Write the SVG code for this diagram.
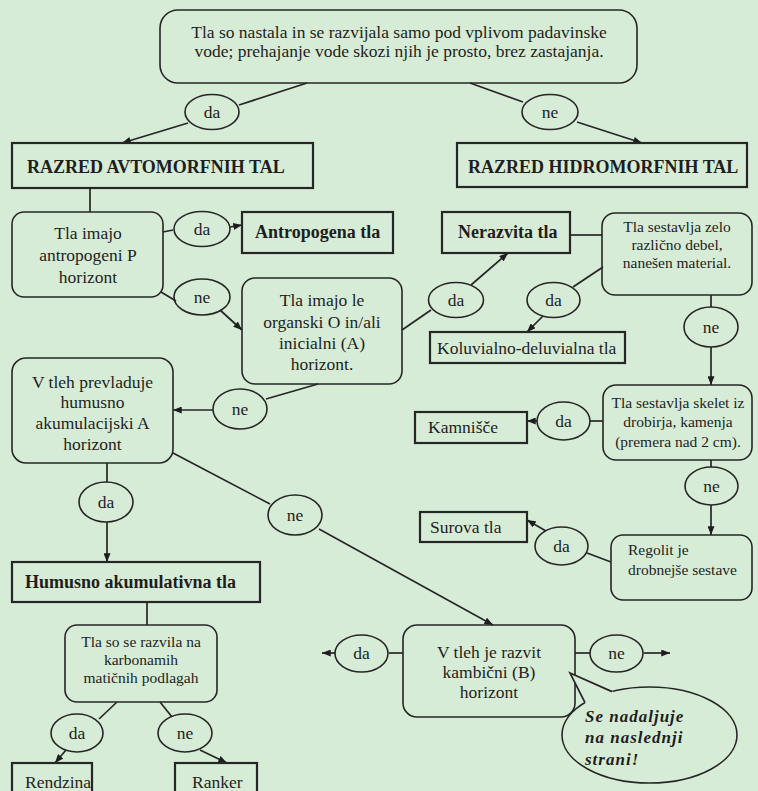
<svg xmlns="http://www.w3.org/2000/svg" width="758" height="791" viewBox="0 0 758 791">
<defs>
<marker id="ah" viewBox="0 0 10 8" refX="10" refY="4" markerWidth="9" markerHeight="7" markerUnits="userSpaceOnUse" orient="auto">
<path d="M0,0 L10,4 L0,8 z" fill="#1e1e1e"/>
</marker>
<style>
text{font-family:"Liberation Serif","Times New Roman",serif;fill:#1e1e1e;font-size:17.5px}
.b{font-weight:bold;font-size:18px}
.s{font-size:15.5px}
.c{text-anchor:middle}
.rr{fill:none;stroke:#262626;stroke-width:1.6}
.rb{fill:none;stroke:#262626;stroke-width:2.2}
.el{fill:none;stroke:#262626;stroke-width:1.6}
.ln{stroke:#262626;stroke-width:1.7;fill:none}
.ar{stroke:#262626;stroke-width:1.7;fill:none;marker-end:url(#ah)}
.call{font-weight:bold;font-style:italic;font-size:17px;letter-spacing:1px}
</style>
</defs>
<rect width="758" height="791" fill="#d7ecd6"/>

<g id="connectors">
<line class="ln" x1="307" y1="83" x2="239" y2="105"/>
<line class="ar" x1="188" y1="123" x2="122" y2="143"/>
<line class="ln" x1="470" y1="83" x2="523" y2="102"/>
<line class="ar" x1="577" y1="122" x2="642" y2="143"/>
<line class="ln" x1="90" y1="188" x2="90" y2="212"/>
<line class="ln" x1="163" y1="232" x2="173" y2="230"/>
<line class="ar" x1="230" y1="227" x2="242" y2="225"/>
<line class="ln" x1="161" y1="292" x2="176" y2="301"/>
<line class="ar" x1="220" y1="310" x2="242" y2="330"/>
<line class="ln" x1="402" y1="330" x2="431" y2="310"/>
<line class="ar" x1="471" y1="285" x2="508" y2="253"/>
<line class="ln" x1="570" y1="235" x2="602" y2="235"/>
<line class="ln" x1="603" y1="267" x2="573" y2="287"/>
<line class="ar" x1="543" y1="316" x2="527" y2="332"/>
<line class="ln" x1="711" y1="295" x2="711" y2="307"/>
<line class="ar" x1="711" y1="347" x2="711" y2="385"/>
<line class="ln" x1="603" y1="421" x2="590" y2="421"/>
<line class="ar" x1="537" y1="421" x2="527" y2="421"/>
<line class="ln" x1="711" y1="460" x2="711" y2="467"/>
<line class="ar" x1="711" y1="505" x2="711" y2="535"/>
<line class="ln" x1="611" y1="562" x2="587" y2="553"/>
<line class="ar" x1="546" y1="531" x2="527" y2="520"/>
<line class="ln" x1="318" y1="384" x2="266" y2="399"/>
<line class="ar" x1="213" y1="410" x2="173" y2="410"/>
<line class="ln" x1="107" y1="463" x2="107" y2="482"/>
<line class="ar" x1="107" y1="522" x2="107" y2="562"/>
<line class="ln" x1="173" y1="453" x2="270" y2="504"/>
<line class="ar" x1="319" y1="529" x2="493" y2="625"/>
<line class="ln" x1="147" y1="602" x2="147" y2="625"/>
<line class="ln" x1="117" y1="702" x2="99" y2="719"/>
<line class="ar" x1="66" y1="750" x2="55" y2="763"/>
<line class="ln" x1="160" y1="702" x2="172" y2="717"/>
<line class="ar" x1="200" y1="750" x2="227" y2="763"/>
<line class="ln" x1="403" y1="653" x2="389" y2="653"/>
<line class="ar" x1="335" y1="653" x2="322" y2="653"/>
<line class="ln" x1="575" y1="653" x2="590" y2="653"/>
<line class="ar" x1="644" y1="653" x2="670" y2="653"/>
</g>

<g id="n_top">
<rect class="rr" x="160" y="10" width="477" height="73" rx="18"/>
<text class="c" x="399" y="38">Tla so nastala in se razvijala samo pod vplivom padavinske</text>
<text class="c" x="399" y="57">vode; prehajanje vode skozi njih je prosto, brez zastajanja.</text>
</g>
<g id="e_da1"><ellipse class="el" cx="212" cy="112" rx="27" ry="17.5"/><text class="c" x="212" y="118">da</text></g>
<g id="e_ne1"><ellipse class="el" cx="550" cy="112" rx="28" ry="17.5"/><text class="c" x="550" y="118">ne</text></g>

<g id="n_avto">
<rect class="rb" x="12" y="143" width="301" height="45"/>
<text class="b" x="27" y="173">RAZRED AVTOMORFNIH TAL</text>
</g>
<g id="n_hidro">
<rect class="rb" x="457" y="143" width="290" height="44"/>
<text class="b" x="468" y="173">RAZRED HIDROMORFNIH TAL</text>
</g>

<g id="n_antroP">
<rect class="rr" x="12" y="212" width="151" height="85" rx="12"/>
<text class="c" x="88" y="239">Tla imajo</text>
<text class="c" x="88" y="261">antropogeni P</text>
<text class="c" x="88" y="283">horizont</text>
</g>
<g id="e_da2"><ellipse class="el" cx="202" cy="229" rx="28" ry="17.5"/><text class="c" x="202" y="235">da</text></g>
<g id="e_ne2"><ellipse class="el" cx="202" cy="297" rx="28" ry="18"/><text class="c" x="202" y="303">ne</text></g>

<g id="n_antropogena">
<rect class="rb" x="242" y="212" width="151" height="41"/>
<text class="b" x="255" y="238">Antropogena tla</text>
</g>

<g id="n_organski">
<rect class="rr" x="242" y="278" width="160" height="106" rx="13"/>
<text class="c" x="322" y="306">Tla imajo le</text>
<text class="c" x="322" y="328">organski O in/ali</text>
<text class="c" x="322" y="349">inicialni (A)</text>
<text class="c" x="322" y="370">horizont.</text>
</g>

<g id="n_nerazvita">
<rect class="rb" x="442" y="212" width="128" height="41"/>
<text class="b" x="458" y="238">Nerazvita tla</text>
</g>

<g id="n_debel">
<rect class="rr" x="602" y="213" width="150" height="82" rx="13"/>
<text class="c s" x="677" y="232">Tla sestavlja zelo</text>
<text class="c s" x="677" y="250">različno debel,</text>
<text class="c s" x="677" y="268">nanešen material.</text>
</g>
<g id="e_da3"><ellipse class="el" cx="456" cy="300" rx="27.5" ry="17.5"/><text class="c" x="456" y="306">da</text></g>
<g id="e_da4"><ellipse class="el" cx="553.5" cy="300" rx="26.5" ry="17.5"/><text class="c" x="553.5" y="306">da</text></g>
<g id="e_ne3"><ellipse class="el" cx="711" cy="327" rx="27" ry="20"/><text class="c" x="711" y="333">ne</text></g>

<g id="n_koluvialno">
<rect class="rb" x="430" y="332" width="195" height="31"/>
<text x="437" y="354">Koluvialno-deluvialna tla</text>
</g>

<g id="n_skelet">
<rect class="rr" x="603" y="385" width="149" height="75" rx="13"/>
<text class="c s" x="678" y="408">Tla sestavlja skelet iz</text>
<text class="c s" x="678" y="427">drobirja, kamenja</text>
<text class="c s" x="678" y="447">(premera nad 2 cm).</text>
</g>
<g id="e_da5"><ellipse class="el" cx="563.5" cy="421" rx="26.5" ry="19"/><text class="c" x="563.5" y="427">da</text></g>
<g id="n_kamnisce">
<rect class="rb" x="415" y="412" width="112" height="31"/>
<text x="428" y="433">Kamnišče</text>
</g>
<g id="e_ne4"><ellipse class="el" cx="711.5" cy="486" rx="26.5" ry="19"/><text class="c" x="711.5" y="492">ne</text></g>

<g id="n_regolit">
<rect class="rr" x="611" y="535" width="141" height="65" rx="12"/>
<text class="s" x="628" y="555">Regolit je</text>
<text class="s" x="628" y="575">drobnejše sestave</text>
</g>
<g id="e_da6"><ellipse class="el" cx="561.5" cy="546" rx="26.5" ry="19"/><text class="c" x="561.5" y="552">da</text></g>
<g id="n_surova">
<rect class="rb" x="420" y="512" width="107" height="30"/>
<text x="430" y="533">Surova tla</text>
</g>

<g id="n_humusA">
<rect class="rr" x="12" y="358" width="161" height="105" rx="14"/>
<text class="c" x="92.5" y="388">V tleh prevladuje</text>
<text class="c" x="92.5" y="408">humusno</text>
<text class="c" x="92.5" y="429">akumulacijski A</text>
<text class="c" x="92.5" y="450">horizont</text>
</g>
<g id="e_ne5"><ellipse class="el" cx="240" cy="409" rx="27" ry="20"/><text class="c" x="240" y="415">ne</text></g>
<g id="e_da7"><ellipse class="el" cx="106" cy="502" rx="27" ry="20"/><text class="c" x="106" y="508">da</text></g>
<g id="e_ne6"><ellipse class="el" cx="295" cy="515" rx="27" ry="20"/><text class="c" x="295" y="521">ne</text></g>

<g id="n_humusno">
<rect class="rb" x="12" y="562" width="248" height="40"/>
<text class="b" x="25" y="588">Humusno akumulativna tla</text>
</g>

<g id="n_karbonat">
<rect class="rr" x="65" y="625" width="152" height="77" rx="12"/>
<text class="c s" x="141" y="647">Tla so se razvila na</text>
<text class="c s" x="141" y="665">karbonamih</text>
<text class="c s" x="141" y="683">matičnih podlagah</text>
</g>
<g id="e_da8"><ellipse class="el" cx="77" cy="733" rx="26" ry="19"/><text class="c" x="77" y="739">da</text></g>
<g id="e_ne7"><ellipse class="el" cx="185" cy="733" rx="27" ry="19"/><text class="c" x="185" y="739">ne</text></g>

<g id="n_rendzina">
<rect class="rb" x="12" y="763" width="80" height="40"/>
<text x="25" y="788">Rendzina</text>
</g>
<g id="n_ranker">
<rect class="rb" x="175" y="763" width="82" height="40"/>
<text x="192" y="788">Ranker</text>
</g>

<g id="n_kambicni">
<rect class="rr" x="403" y="625" width="172" height="92" rx="14"/>
<text class="c" x="489" y="658">V tleh je razvit</text>
<text class="c" x="489" y="678">kambični (B)</text>
<text class="c" x="489" y="698">horizont</text>
</g>
<g id="e_da9"><ellipse class="el" cx="361.5" cy="653.5" rx="26.5" ry="18.5"/><text class="c" x="361.5" y="659">da</text></g>
<g id="e_ne8"><ellipse class="el" cx="616.5" cy="653.5" rx="26.5" ry="18.5"/><text class="c" x="616.5" y="659">ne</text></g>

<g id="callout">
<ellipse class="el" cx="649.5" cy="735" rx="87.5" ry="48" fill="#d7ecd6"/>
<polygon points="616,693 570,673 586,705 605,705" fill="#d7ecd6"/>
<polyline class="ln" points="612,691.6 570,673 585,702.6" stroke-width="1.6"/>
<text class="call" x="585" y="722">Se nadaljuje</text>
<text class="call" x="585" y="743">na naslednji</text>
<text class="call" x="585" y="765">strani!</text>
</g>
</svg>
